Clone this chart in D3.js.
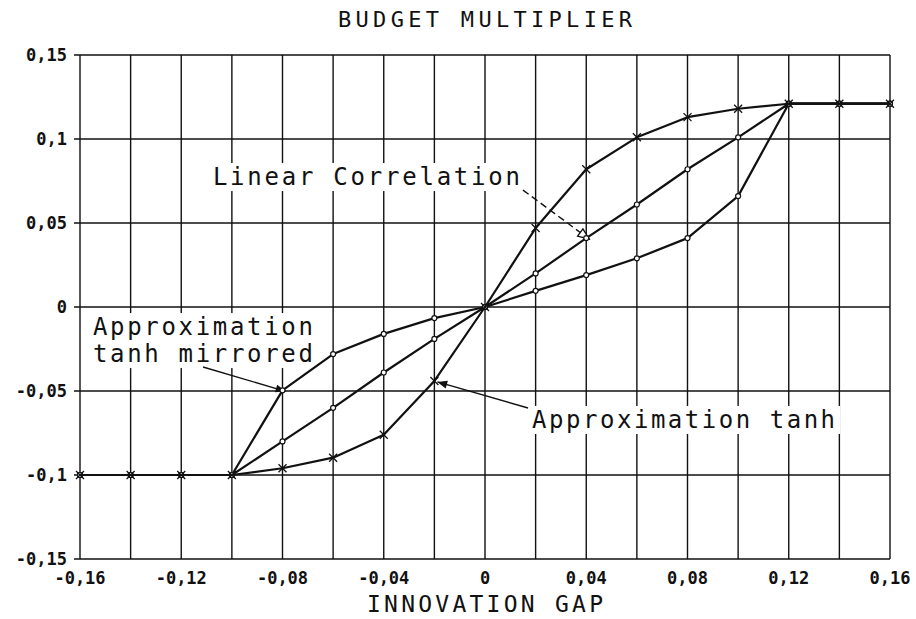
<!DOCTYPE html>
<html lang="en">
	<head>
		<meta charset="utf-8">
		<title>Budget multiplier vs innovation gap</title>
		<script src="https://d3js.org/d3.v7.min.js"></script>
		<style type="text/css">
			body { margin: 0; background: #fff; }
			text { font-family: "DejaVu Sans Mono", "Liberation Mono", monospace; fill: #111; }
		</style>
	</head>
	<body>
		<script type="text/javascript">
			//Data (x = innovation gap)
			var gap = [-0.16, -0.14, -0.12, -0.10, -0.08, -0.06, -0.04, -0.02, 0, 0.02, 0.04, 0.06, 0.08, 0.10, 0.12, 0.14, 0.16];
			var linear   = [-0.1, -0.1, -0.1, -0.1, -0.08, -0.06, -0.039, -0.019, 0, 0.020, 0.041, 0.061, 0.082, 0.101, 0.121, 0.121, 0.121];
			var tanh     = [-0.1, -0.1, -0.1, -0.1, -0.096, -0.0897, -0.076, -0.044, 0, 0.047, 0.082, 0.101, 0.113, 0.118, 0.121, 0.121, 0.121];
			var mirrored = [-0.1, -0.1, -0.1, -0.1, -0.0496, -0.028, -0.016, -0.0066, 0, 0.0096, 0.019, 0.029, 0.041, 0.066, 0.121, 0.121, 0.121];

			var xTicks = [-0.16, -0.12, -0.08, -0.04, 0, 0.04, 0.08, 0.12, 0.16];
			var xTickLabels = ["-0,16", "-0,12", "-0,08", "-0,04", "0", "0,04", "0,08", "0,12", "0,16"];
			var yTicks = [0.15, 0.1, 0.05, 0, -0.05, -0.1, -0.15];
			var yTickLabels = ["0,15", "0,1", "0,05", "0", "-0,05", "-0,1", "-0,15"];
			var xGrid = d3.range(-0.16, 0.1601, 0.02);

			//Width and height
			var w = 916;
			var h = 619;

			var x = d3.scaleLinear().domain([-0.16, 0.16]).range([80, 890]);
			var y = d3.scaleLinear().domain([-0.15, 0.15]).range([559, 55]);

			var svg = d3.select("body")
						.append("svg")
						.attr("width", w)
						.attr("height", h);

			//grid
			svg.selectAll("line.vg")
				.data(xGrid)
				.enter()
				.append("line")
				.attr("class", "vg")
				.attr("x1", function(d){ return x(d); })
				.attr("x2", function(d){ return x(d); })
				.attr("y1", y(0.15))
				.attr("y2", y(-0.15))
				.style("stroke", "#111")
				.style("stroke-width", 1.4);

			svg.selectAll("line.hg")
				.data(yTicks)
				.enter()
				.append("line")
				.attr("class", "hg")
				.attr("x1", x(-0.16) - 6)
				.attr("x2", x(0.16))
				.attr("y1", function(d){ return y(d); })
				.attr("y2", function(d){ return y(d); })
				.style("stroke", "#111")
				.style("stroke-width", 1.4);

			//tick labels
			svg.selectAll("text.yl")
				.data(yTicks)
				.enter()
				.append("text")
				.attr("class", "yl")
				.attr("x", x(-0.16) - 13)
				.attr("y", function(d){ return y(d) + 6; })
				.attr("text-anchor", "end")
				.style("font-size", "17px")
				.style("font-weight", "bold")
				.text(function(d, i){ return yTickLabels[i]; });

			svg.selectAll("text.xl")
				.data(xTicks)
				.enter()
				.append("text")
				.attr("class", "xl")
				.attr("x", function(d){ return x(d); })
				.attr("y", y(-0.15) + 25)
				.attr("text-anchor", "middle")
				.style("font-size", "17px")
				.style("font-weight", "bold")
				.text(function(d, i){ return xTickLabels[i]; });

			//titles
			svg.append("text")
				.attr("x", x(0))
				.attr("y", 27)
				.attr("text-anchor", "middle")
				.attr("textLength", 294)
				.attr("lengthAdjust", "spacing")
				.style("font-size", "22px")
				.text("BUDGET MULTIPLIER");

			svg.append("text")
				.attr("x", x(0))
				.attr("y", 612)
				.attr("text-anchor", "middle")
				.attr("textLength", 236)
				.attr("lengthAdjust", "spacing")
				.style("font-size", "23px")
				.text("INNOVATION GAP");

			//annotations, positioned in data units
			var notes = [
				{ lines: ["Linear Correlation"], x0: -0.1075, x1: 0.0138, y: 0.0726 },
				{ lines: ["Approximation", "tanh mirrored"], x0: -0.1549, x1: -0.0680, y: -0.0167 },
				{ lines: ["Approximation tanh"], x0: 0.0186, x1: 0.1383, y: -0.072 }
			];
			var lineGap = 27;

			notes.forEach(function(n){
				var px0 = x(n.x0), px1 = x(n.x1), py = y(n.y);
				svg.append("rect")
					.attr("x", px0 - 5)
					.attr("y", py - 22)
					.attr("width", px1 - px0 + 10)
					.attr("height", 28 + lineGap * (n.lines.length - 1))
					.style("fill", "#fff");
				n.lines.forEach(function(t, k){
					svg.append("text")
						.attr("x", px0)
						.attr("y", py + k * lineGap)
						.attr("textLength", px1 - px0)
						.attr("lengthAdjust", "spacing")
						.style("font-size", "24px")
						.text(t);
				});
			});

			//arrows
			var defs = svg.append("defs");
			defs.append("marker")
				.attr("id", "open")
				.attr("viewBox", "0 0 10 10")
				.attr("refX", 10).attr("refY", 5)
				.attr("markerWidth", 10).attr("markerHeight", 8)
				.attr("orient", "auto")
				.append("path")
				.attr("d", "M0,1L10,5L0,9Z")
				.style("fill", "#fff")
				.style("stroke", "#111")
				.style("stroke-width", 1.2);
			defs.append("marker")
				.attr("id", "solid")
				.attr("viewBox", "0 0 10 10")
				.attr("refX", 10).attr("refY", 5)
				.attr("markerWidth", 10).attr("markerHeight", 7)
				.attr("orient", "auto")
				.append("path")
				.attr("d", "M0,1L10,5L0,9Z")
				.style("fill", "#111");

			var arrows = [
				{ from: [0.0150, 0.0696], to: [0.04, 0.041], head: "open", dash: "7,4" },
				{ from: [-0.1114, -0.0357], to: [-0.08, -0.0496], head: "solid", dash: null },
				{ from: [0.0170, -0.0601], to: [-0.02, -0.044], head: "solid", dash: null }
			];

			svg.selectAll("line.arrow")
				.data(arrows)
				.enter()
				.append("line")
				.attr("class", "arrow")
				.attr("x1", function(d){ return x(d.from[0]); })
				.attr("y1", function(d){ return y(d.from[1]); })
				.attr("x2", function(d){ return x(d.to[0]) + 3; })
				.attr("y2", function(d){ return y(d.to[1]) + 1; })
				.attr("stroke-dasharray", function(d){ return d.dash; })
				.attr("marker-end", function(d){ return "url(#" + d.head + ")"; })
				.style("stroke", "#111")
				.style("stroke-width", 1.4);

			//curves
			var line = d3.line()
				.x(function(d){ return x(d[0]); })
				.y(function(d){ return y(d[1]); });

			var series = [
				{ vals: linear, mark: "o" },
				{ vals: mirrored, mark: "o" },
				{ vals: tanh, mark: "x" }
			];

			series.forEach(function(s){
				var pts = gap.map(function(g, i){ return [g, s.vals[i]]; });
				svg.append("path")
					.attr("d", line(pts))
					.style("fill", "none")
					.style("stroke", "#111")
					.style("stroke-width", 2.2)
					.style("stroke-linejoin", "round");

				if (s.mark == "x"){
					svg.selectAll(null)
						.data(pts)
						.enter()
						.append("path")
						.attr("d", function(d){
							var cx = x(d[0]), cy = y(d[1]);
							return "M" + (cx-4) + "," + (cy-4) + "L" + (cx+4) + "," + (cy+4) +
								"M" + (cx-4) + "," + (cy+4) + "L" + (cx+4) + "," + (cy-4);
						})
						.style("stroke", "#111")
						.style("stroke-width", 1.3);
				}
				else {
					svg.selectAll(null)
						.data(pts)
						.enter()
						.append("circle")
						.attr("cx", function(d){ return x(d[0]); })
						.attr("cy", function(d){ return y(d[1]); })
						.attr("r", 2.5)
						.style("fill", "#fff")
						.style("stroke", "#111")
						.style("stroke-width", 1.2);
				}
			});
		</script>
	</body>
</html>
